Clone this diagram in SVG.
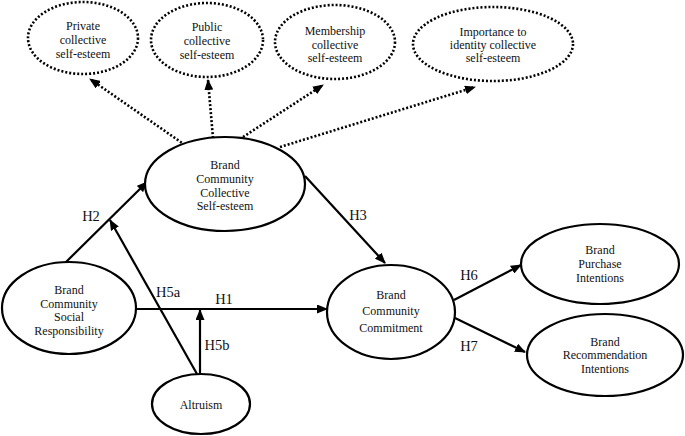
<svg xmlns="http://www.w3.org/2000/svg" width="685" height="436" viewBox="0 0 685 436">
<style>
.bg{fill:#ffffff}
.n{fill:#ffffff;stroke:#000;stroke-width:2.2}
.d{fill:#ffffff;stroke:#000;stroke-width:2.6;stroke-dasharray:2 2}
.t{font-family:"Liberation Serif","Times New Roman",serif;font-size:12px;fill:#111;text-anchor:middle}
.l{font-family:"Liberation Serif","Times New Roman",serif;font-size:14.5px;fill:#111;text-anchor:middle}
.c{fill:none;stroke:#000;stroke-width:2.2}
.cd{fill:none;stroke:#000;stroke-width:2.6;stroke-dasharray:2 2}
</style>
<defs>
<marker id="ah" markerUnits="userSpaceOnUse" markerWidth="11" markerHeight="9" refX="10" refY="4.5" orient="auto">
<path d="M0,0 L11,4.5 L0,9 z" fill="#000"/>
</marker>
</defs>
<rect class="bg" x="0" y="0" width="685" height="436"/>
<g id="connectors">
<line class="cd" x1="185" y1="145" x2="90" y2="79" marker-end="url(#ah)"/>
<line class="cd" x1="213" y1="138" x2="208" y2="80" marker-end="url(#ah)"/>
<line class="cd" x1="243" y1="137" x2="323" y2="85" marker-end="url(#ah)"/>
<line class="cd" x1="280" y1="147" x2="475" y2="87" marker-end="url(#ah)"/>
<line class="c" x1="65" y1="263" x2="147" y2="182" marker-end="url(#ah)"/>
<line class="c" x1="197" y1="374" x2="110" y2="220" marker-end="url(#ah)"/>
<line class="c" x1="137" y1="309" x2="327" y2="309" marker-end="url(#ah)"/>
<line class="c" x1="200" y1="374" x2="200" y2="310" marker-end="url(#ah)"/>
<line class="c" x1="305" y1="176" x2="385" y2="263" marker-end="url(#ah)"/>
<line class="c" x1="454" y1="300" x2="521" y2="265" marker-end="url(#ah)"/>
<line class="c" x1="455" y1="318" x2="525" y2="352" marker-end="url(#ah)"/>
<text class="l" x="91" y="221">H2</text>
<text class="l" x="168" y="297">H5a</text>
<text class="l" x="224" y="304">H1</text>
<text class="l" x="217" y="350">H5b</text>
<text class="l" x="358" y="220">H3</text>
<text class="l" x="469" y="280">H6</text>
<text class="l" x="469" y="351">H7</text>
</g>
<g id="private">
<ellipse class="d" cx="83" cy="38" rx="55" ry="36"/>
<text class="t" x="83" y="30">Private</text>
<text class="t" x="83" y="44">collective</text>
<text class="t" x="83" y="58">self-esteem</text>
</g>
<g id="public">
<ellipse class="d" cx="207" cy="40" rx="56" ry="37"/>
<text class="t" x="207" y="31">Public</text>
<text class="t" x="207" y="45">collective</text>
<text class="t" x="207" y="59">self-esteem</text>
</g>
<g id="membership">
<ellipse class="d" cx="335" cy="42" rx="60" ry="37"/>
<text class="t" x="335" y="35">Membership</text>
<text class="t" x="335" y="49">collective</text>
<text class="t" x="335" y="62">self-esteem</text>
</g>
<g id="importance">
<ellipse class="d" cx="493" cy="44" rx="80" ry="37"/>
<text class="t" x="493" y="36">Importance to</text>
<text class="t" x="493" y="49">identity collective</text>
<text class="t" x="493" y="62">self-esteem</text>
</g>
<g id="cse">
<ellipse class="n" cx="225" cy="184" rx="80" ry="47"/>
<text class="t" x="225" y="169">Brand</text>
<text class="t" x="225" y="183">Community</text>
<text class="t" x="225" y="197">Collective</text>
<text class="t" x="225" y="210">Self-esteem</text>
</g>
<g id="csr">
<ellipse class="n" cx="69" cy="308" rx="67" ry="46"/>
<text class="t" x="69" y="294">Brand</text>
<text class="t" x="69" y="308">Community</text>
<text class="t" x="69" y="321">Social</text>
<text class="t" x="69" y="335">Responsibility</text>
</g>
<g id="commitment">
<ellipse class="n" cx="391" cy="312" rx="64" ry="47"/>
<text class="t" x="391" y="299">Brand</text>
<text class="t" x="391" y="315">Community</text>
<text class="t" x="391" y="332">Commitment</text>
</g>
<g id="altruism">
<ellipse class="n" cx="201" cy="404" rx="49" ry="30"/>
<text class="t" x="201" y="409">Altruism</text>
</g>
<g id="purchase">
<ellipse class="n" cx="600" cy="264" rx="79" ry="40"/>
<text class="t" x="600" y="254">Brand</text>
<text class="t" x="600" y="268">Purchase</text>
<text class="t" x="600" y="282">Intentions</text>
</g>
<g id="recommendation">
<ellipse class="n" cx="605" cy="355" rx="78" ry="41"/>
<text class="t" x="605" y="346">Brand</text>
<text class="t" x="605" y="359">Recommendation</text>
<text class="t" x="605" y="373">Intentions</text>
</g>
</svg>
